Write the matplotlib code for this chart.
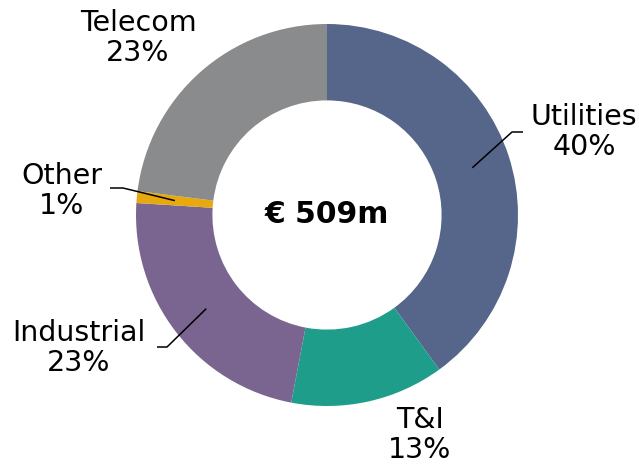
import numpy as np
import matplotlib
matplotlib.use("Agg")
import matplotlib.pyplot as plt

# revenue split by segment
segments = ["Utilities", "T&I", "Industrial", "Other", "Telecom"]
shares = [40, 13, 23, 1, 23]
colors = ["#56668a", "#1e9e8a", "#79658f", "#e8a90e", "#8a8b8c"]
total_label = "€ 509m"

plt.rcParams["font.family"] = "DejaVu Sans"

fig = plt.figure(figsize=(6.39, 4.67), dpi=100)
# axes in pixel units, origin at the donut centre, y pointing up
ax = fig.add_axes([0, 0, 1, 1])
cx, cy = 327, 215

R = 191
ring = 0.4
wedges, _ = ax.pie(shares, colors=colors, radius=R, startangle=90,
                   counterclock=False, center=(0, 0), frame=True,
                   wedgeprops=dict(width=R * ring, edgecolor="none"))
ax.set_xlim(-cx, 639 - cx)
ax.set_ylim(-(467 - cy), cy)
ax.set_aspect("auto")
ax.axis("off")

ax.text(0, 0, total_label, ha="center", va="center", fontsize=21.5,
        fontweight="bold")

def px(x, y):
    return x - cx, cy - y

# text block centres (pixels) and elbow/end points of leader lines
label_pos = {
    "Utilities": (584, 132),
    "T&I": (420, 435),
    "Industrial": (79, 348),
    "Other": (62, 191),
    "Telecom": (138, 38),
}
leaders = {
    "Utilities": [(512, 132), (523, 132)],
    "Industrial": [(167, 347), (157, 347)],
    "Other": [(123, 188), (110, 188)],
}

r_mid = R * (1 - ring / 2)
for w, name, share in zip(wedges, segments, shares):
    tx, ty = px(*label_pos[name])
    ax.text(tx, ty, f"{name}\n{share}%", ha="center", va="center",
            fontsize=20.5, linespacing=1.13)
    if name in leaders:
        ang = np.deg2rad((w.theta1 + w.theta2) / 2)
        xs = [r_mid * np.cos(ang)] + [px(*p)[0] for p in leaders[name]]
        ys = [r_mid * np.sin(ang)] + [px(*p)[1] for p in leaders[name]]
        ax.plot(xs, ys, color="black", lw=1.1, solid_capstyle="butt")

fig.savefig("out.png", dpi=100)
